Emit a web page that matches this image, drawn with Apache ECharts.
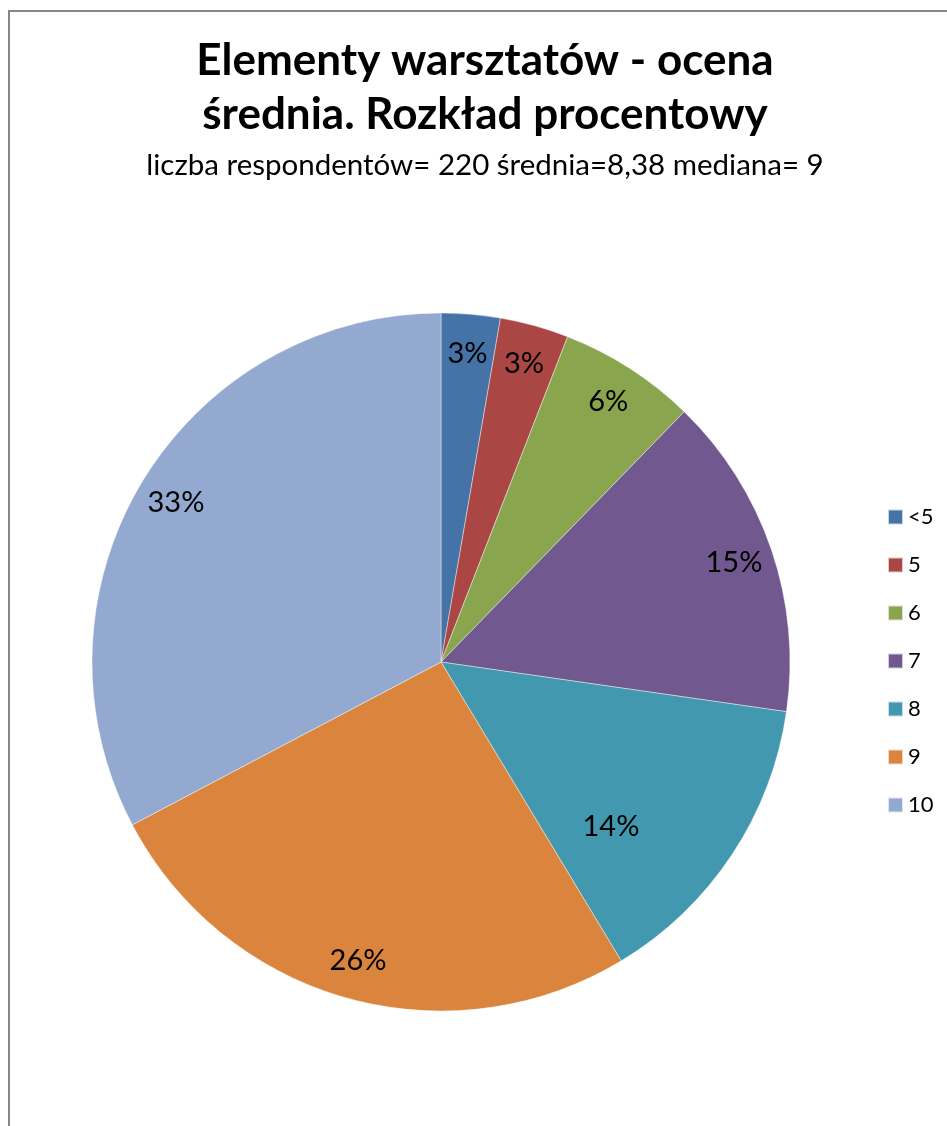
<!DOCTYPE html>
<html>
<head>
<meta charset="utf-8">
<script src="https://cdn.jsdelivr.net/npm/echarts@6/dist/echarts.min.js"></script>
<style>
  html, body { margin: 0; padding: 0; background: #fff; overflow: hidden; }
  #chart { position: absolute; left: 0; top: 0; width: 947px; height: 1126px; }
  #frame { position: absolute; left: 8px; top: 10px; width: 1200px; height: 1400px;
           border-left: 2px solid #868686; border-top: 2px solid #868686; pointer-events: none; }
</style>
</head>
<body>
<div id="chart"></div>
<div id="frame"></div>
<script>
const titleLines = ['Elementy warsztatów - ocena', 'średnia. Rozkład procentowy'];
const subtitle = 'liczba respondentów= 220 średnia=8,38 mediana= 9';
const categories = ['<5', '5', '6', '7', '8', '9', '10'];
const counts = [6, 7, 14, 33, 31, 57, 72];
const colors = ['#4572A7', '#AA4643', '#89A54E', '#71588F', '#4198AF', '#DB843D', '#93A9CF'];

const FONT = 'Lato, "Open Sans", sans-serif';
const center = [441, 662];
const R = 349;

const pieData = categories.map((c, i) => ({ name: c, value: counts[i], itemStyle: { color: colors[i] } }));
const labelData = categories.map((c, i) => {
  const d = { name: c, value: counts[i] };
  if (c === '8') d.label = { offset: [-88, -6] };
  return d;
});

const chart = echarts.init(document.getElementById('chart'), null, { renderer: 'canvas' });
chart.setOption({
  animation: false,
  backgroundColor: '#ffffff',
  title: {
    text: titleLines.join('\n'),
    subtext: subtitle,
    left: 480,
    top: 29,
    textAlign: 'center',
    itemGap: 8,
    textStyle: { fontFamily: FONT, fontWeight: 'bold', fontSize: 44, lineHeight: 54, color: '#000' },
    subtextStyle: { fontFamily: FONT, fontSize: 29.5, color: '#000' }
  },
  legend: {
    orient: 'vertical',
    left: 882,
    top: 501,
    padding: 5,
    itemWidth: 15,
    itemHeight: 15,
    itemGap: 26,
    itemTextGap: 6,
    icon: 'rect',
    data: categories,
    textStyle: { fontFamily: FONT, fontSize: 22, color: '#000' }
  },
  series: [
    {
      type: 'pie',
      center: center,
      radius: [0, R],
      startAngle: 90,
      clockwise: true,
      avoidLabelOverlap: false,
      silent: true,
      label: { show: false },
      labelLine: { show: false },
      itemStyle: { borderColor: 'rgba(255,255,255,0.7)', borderWidth: 0.6 },
      data: pieData
    },
    {
      type: 'pie',
      center: center,
      radius: [264, R],
      startAngle: 90,
      clockwise: true,
      avoidLabelOverlap: false,
      silent: true,
      itemStyle: { color: 'rgba(0,0,0,0)' },
      label: {
        show: true,
        position: 'inside',
        fontFamily: FONT,
        fontSize: 29,
        color: '#000',
        formatter: p => Math.round(p.percent) + '%'
      },
      labelLine: { show: false },
      data: labelData
    }
  ]
});
</script>
</body>
</html>
